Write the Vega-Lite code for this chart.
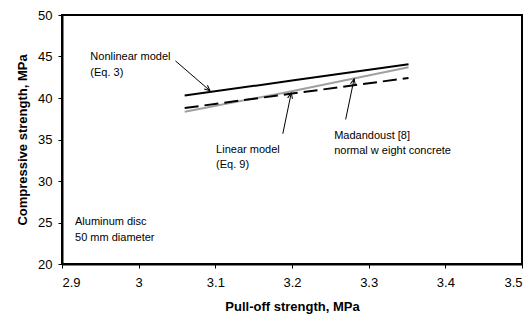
{
  "$schema": "https://vega.github.io/schema/vega-lite/v6.json",
  "width": 460,
  "height": 249,
  "autosize": "none",
  "padding": {"left": 62, "top": 15, "right": 9, "bottom": 54},
  "background": "white",
  "config": {
    "view": {"stroke": "black", "strokeWidth": 2},
    "font": "Liberation Sans",
    "axis": {
      "grid": false,
      "domainColor": "black",
      "domainWidth": 2,
      "tickColor": "black",
      "tickWidth": 1,
      "tickSize": 4,
      "labelFont": "Liberation Sans",
      "labelFontSize": 13,
      "labelColor": "black",
      "titleFont": "Liberation Sans",
      "titleFontSize": 13,
      "titleFontWeight": "bold",
      "titleColor": "black"
    }
  },
  "datasets": {
    "lines": [
      {"x": 3.06, "y": 40.29, "s": "Nonlinear"},
      {"x": 3.2, "y": 42.1, "s": "Nonlinear"},
      {"x": 3.352, "y": 44.07, "s": "Nonlinear"},
      {"x": 3.06, "y": 38.35, "s": "Linear"},
      {"x": 3.19, "y": 40.64, "s": "Linear"},
      {"x": 3.352, "y": 43.7, "s": "Linear"},
      {"x": 3.06, "y": 38.79, "s": "Madandoust"},
      {"x": 3.2, "y": 40.53, "s": "Madandoust"},
      {"x": 3.352, "y": 42.42, "s": "Madandoust"}
    ],
    "arrows": [
      {"id": "a1", "x": 3.048, "y": 44.47, "x2": 3.093, "y2": 40.88},
      {"id": "a2", "x": 3.188, "y": 35.69, "x2": 3.199, "y2": 40.6},
      {"id": "a3", "x": 3.27, "y": 37.42, "x2": 3.281, "y2": 42.3}
    ],
    "labels": [
      {"x": 2.937, "y": 44.88, "t": "Nonlinear model"},
      {"x": 2.937, "y": 42.98, "t": "(Eq. 3)"},
      {"x": 3.101, "y": 33.79, "t": "Linear model"},
      {"x": 3.101, "y": 31.89, "t": "(Eq. 9)"},
      {"x": 3.255, "y": 35.48, "t": "Madandoust [8]"},
      {"x": 3.255, "y": 33.58, "t": "normal w eight concrete"},
      {"x": 2.917, "y": 25.12, "t": "Aluminum disc"},
      {"x": 2.917, "y": 23.18, "t": "50 mm diameter"}
    ]
  },
  "encoding": {
    "x": {
      "type": "quantitative",
      "scale": {"domain": [2.9, 3.5], "nice": false, "zero": false},
      "axis": {"values": [2.9, 3, 3.1, 3.2, 3.3, 3.4, 3.5], "format": "~g", "title": "Pull-off strength, MPa", "titlePadding": 11, "labelPadding": 8}
    },
    "y": {
      "type": "quantitative",
      "scale": {"domain": [20, 50], "nice": false, "zero": false},
      "axis": {"values": [20, 25, 30, 35, 40, 45, 50], "title": "Compressive strength, MPa", "titlePadding": 8, "labelPadding": 6}
    }
  },
  "layer": [
    {
      "data": {"name": "lines"},
      "transform": [{"filter": "datum.s === 'Linear'"}],
      "mark": {"type": "line", "color": "#a0a0a0", "strokeWidth": 2},
      "encoding": {"x": {"field": "x"}, "y": {"field": "y"}}
    },
    {
      "data": {"name": "lines"},
      "transform": [{"filter": "datum.s === 'Madandoust'"}],
      "mark": {"type": "line", "color": "black", "strokeWidth": 2, "strokeDash": [14, 6]},
      "encoding": {"x": {"field": "x"}, "y": {"field": "y"}}
    },
    {
      "data": {"name": "lines"},
      "transform": [{"filter": "datum.s === 'Nonlinear'"}],
      "mark": {"type": "line", "color": "black", "strokeWidth": 2},
      "encoding": {"x": {"field": "x"}, "y": {"field": "y"}}
    },
    {
      "data": {"name": "arrows"},
      "mark": {"type": "rule", "color": "black", "strokeWidth": 1},
      "encoding": {"x": {"field": "x"}, "y": {"field": "y"}, "x2": {"field": "x2"}, "y2": {"field": "y2"}}
    },
    {
      "data": {"name": "arrows"},
      "transform": [{"filter": "datum.id === 'a1'"}],
      "mark": {"type": "point", "shape": "M -0.45 1 L 0 0 L 0.45 1", "filled": false, "stroke": "black", "strokeWidth": 1, "size": 120, "angle": 130.6, "opacity": 1},
      "encoding": {"x": {"field": "x2"}, "y": {"field": "y2"}}
    },
    {
      "data": {"name": "arrows"},
      "transform": [{"filter": "datum.id !== 'a1'"}],
      "mark": {"type": "point", "shape": "M -0.45 1 L 0 0 L 0.45 1", "filled": false, "stroke": "black", "strokeWidth": 1, "size": 120, "angle": 12.3, "opacity": 1},
      "encoding": {"x": {"field": "x2"}, "y": {"field": "y2"}}
    },
    {
      "data": {"name": "labels"},
      "mark": {"type": "text", "align": "left", "baseline": "middle", "font": "Liberation Sans", "fontSize": 11, "color": "black"},
      "encoding": {"x": {"field": "x"}, "y": {"field": "y"}, "text": {"field": "t"}}
    }
  ]
}
